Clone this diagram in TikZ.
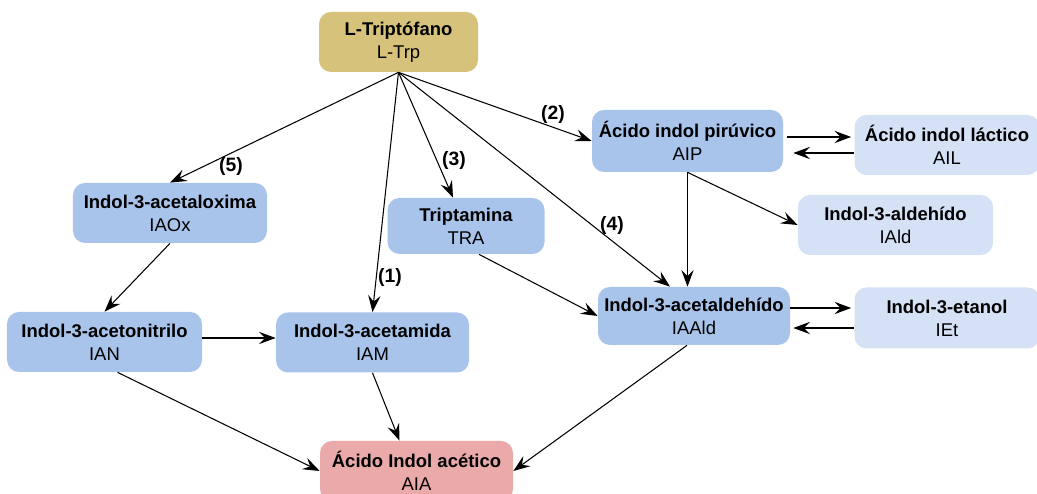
\documentclass[tikz,border=0pt]{standalone}
\usepackage{fontspec}
\setmainfont{Liberation Sans}
\usetikzlibrary{arrows.meta}
\definecolor{trpgold}{HTML}{D6C27A}
\definecolor{midblue}{HTML}{A9C4EB}
\definecolor{paleblue}{HTML}{D5E1F5}
\definecolor{aiapink}{HTML}{EAAAAA}
\begin{document}
\begin{tikzpicture}[
    box/.style={rounded corners=0.24cm,align=center,inner sep=2pt,
                font=\fontsize{10.5}{13}\selectfont,minimum height=1.2cm},
    midbox/.style={box,fill=midblue},
    palebox/.style={box,fill=paleblue},
    arr/.style={-{Stealth[length=9.5pt,width=7pt,inset=3.5pt]},line width=0.6pt},
    lab/.style={font=\fontsize{11}{13}\selectfont\bfseries}]
    \useasboundingbox (0,0) rectangle (20.74,9.88);
    % compuestos
    \node [box,fill=trpgold,minimum width=3.18cm] (LTrp) at (7.97,9.04) {\textbf{L-Triptófano}\\L-Trp};
    \node [midbox,minimum width=3.82cm,minimum height=1.24cm] (AIP) at (13.75,7.06) {\textbf{Ácido indol pirúvico}\\AIP};
    \node [palebox,minimum width=3.7cm] (AIL) at (18.94,6.98) {\textbf{Ácido indol láctico}\\AIL};
    \node [palebox,minimum width=3.9cm] (IAld) at (17.91,5.38) {\textbf{Indol-3-aldehído}\\IAld};
    \node [midbox,minimum width=3.84cm,minimum height=1.16cm] (IAAld) at (13.88,3.56) {\textbf{Indol-3-acetaldehído}\\IAAld};
    \node [palebox,minimum width=3.7cm,minimum height=1.22cm] (IEt) at (18.94,3.52) {\textbf{Indol-3-etanol}\\IEt};
    \node [midbox,minimum width=3.88cm] (IAOx) at (3.40,5.62) {\textbf{Indol-3-acetaloxima}\\IAOx};
    \node [midbox,minimum width=3.14cm,minimum height=1.12cm] (TRA) at (9.32,5.36) {\textbf{Triptamina}\\TRA};
    \node [midbox,minimum width=3.9cm] (IAN) at (2.09,3.04) {\textbf{Indol-3-acetonitrilo}\\IAN};
    \node [midbox,minimum width=3.86cm] (IAM) at (7.45,3.03) {\textbf{Indol-3-acetamida}\\IAM};
    \node [box,fill=aiapink,minimum width=3.86cm] (AIA) at (8.33,0.46) {\textbf{Ácido Indol acético}\\AIA};
    % rutas desde L-Trp
    \draw [arr] (LTrp.south) -- (IAOx.north);
    \draw [arr] (LTrp.south) -- (IAM.north);
    \draw [arr] (LTrp.south) -- ([xshift=-0.26cm]TRA.north);
    \draw [arr] (LTrp.south) -- ([xshift=-0.48cm]IAAld.north);
    \draw [arr] (LTrp.south) -- (AIP.west);
    \node [lab] (lab5) at (4.62,6.54) {(5)};
    \node [lab] (lab1) at (7.80,4.32) {(1)};
    \node [lab] (lab3) at (9.08,6.66) {(3)};
    \node [lab] (lab4) at (12.24,5.36) {(4)};
    \node [lab] (lab2) at (11.06,7.58) {(2)};
    % ruta IAP
    \draw [arr] (AIP.south) -- (AIP.south |- IAAld.north);
    \draw [arr] (AIP.south) -- (IAld.west);
    \path ([yshift=0.16cm]AIL.west) coordinate (ailin) ([yshift=-0.16cm]AIL.west) coordinate (ailout);
    \draw [arr] ([xshift=0.08cm]ailin -| AIP.east) -- ([xshift=-0.06cm]ailin);
    \draw [arr] (ailout) -- ([xshift=0.2cm]ailout -| AIP.east);
    \path ([yshift=0.2cm]IEt.west) coordinate (ietin) ([yshift=-0.2cm]IEt.west) coordinate (ietout);
    \draw [arr] (ietin -| IAAld.east) -- ([xshift=-0.06cm]ietin);
    \draw [arr] (ietout) -- ([xshift=0.06cm]ietout -| IAAld.east);
    % hacia AIA
    \draw [arr] (IAOx.south) -- (IAN.north);
    \draw [arr] ([yshift=0.08cm]IAN.east) -- ([yshift=0.08cm]IAN.east -| IAM.west);
    \draw [arr] ([xshift=0.26cm]IAN.south) -- (AIA.west);
    \draw [arr] (IAM.south) -- ([xshift=-0.34cm]AIA.north);
    \draw [arr] ([xshift=0.26cm]TRA.south) -- (IAAld.west);
    \draw [arr] ([xshift=-0.14cm]IAAld.south) -- (AIA.east);
\end{tikzpicture}
\end{document}
